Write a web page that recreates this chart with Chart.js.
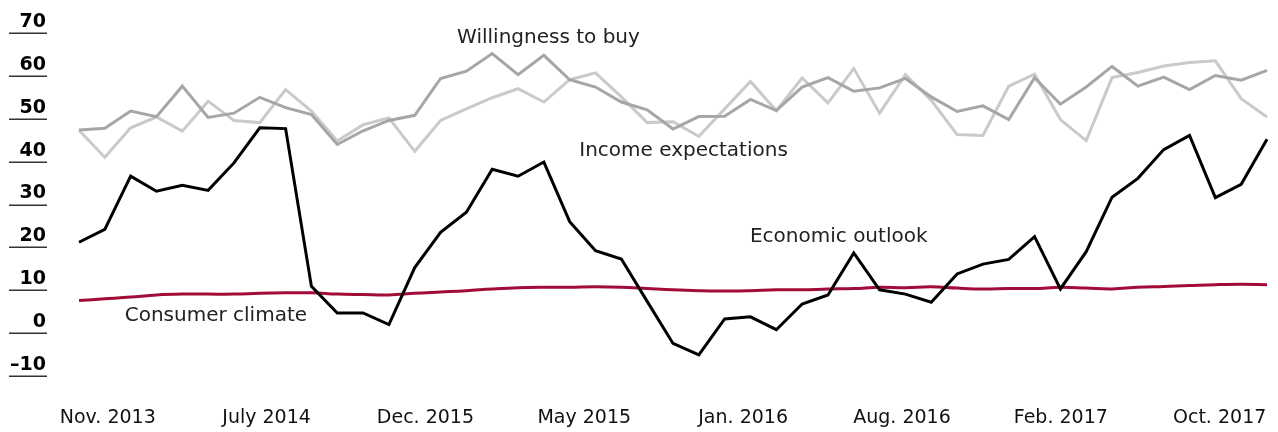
<!DOCTYPE html>
<html>
<head>
<meta charset="utf-8">
<script src="https://cdn.jsdelivr.net/npm/chart.js@4/dist/chart.umd.min.js"></script>
<style>
  html, body { margin: 0; padding: 0; background: #fff; }
  #wrap { width: 1278px; height: 432px; position: relative; }
</style>
</head>
<body>
<div id="wrap"><canvas id="myChart"></canvas></div>
<script>
// monthly survey points
var months = [
  'Nov 2013', 'Dec 2013',
  'Jan 2014', 'Feb 2014', 'Mar 2014', 'Apr 2014', 'May 2014', 'Jun 2014',
  'Jul 2014', 'Aug 2014', 'Sep 2014', 'Oct 2014', 'Nov 2014', 'Dec 2014',
  'Jan 2015', 'Feb 2015', 'Mar 2015', 'Apr 2015', 'May 2015', 'Jun 2015',
  'Jul 2015', 'Aug 2015', 'Sep 2015', 'Oct 2015', 'Nov 2015', 'Dec 2015',
  'Jan 2016', 'Feb 2016', 'Mar 2016', 'Apr 2016', 'May 2016', 'Jun 2016',
  'Jul 2016', 'Aug 2016', 'Sep 2016', 'Oct 2016', 'Nov 2016', 'Dec 2016',
  'Jan 2017', 'Feb 2017', 'Mar 2017', 'Apr 2017', 'May 2017', 'Jun 2017',
  'Jul 2017', 'Aug 2017', 'Sep 2017'
];

var economicOutlook = [21.2, 24.2, 36.6, 33.1, 34.5, 33.3, 39.7, 47.9, 47.7, 10.9, 4.7, 4.7,
  2.0, 15.3, 23.5, 28.2, 38.2, 36.6, 39.9, 26.0, 19.2, 17.3, 7.4, -2.4,
  -5.1, 3.3, 3.8, 0.8, 6.8, 8.9, 18.7, 10.1, 9.1, 7.2, 13.8, 16.1,
  17.2, 22.5, 10.3, 19.0, 31.7, 36.1, 42.8, 46.1, 31.6, 34.7, 45.2];

var willingnessToBuy = [47.4, 47.8, 51.8, 50.5, 57.6, 50.3, 51.3, 55.0, 52.6, 51.0, 44.0, 47.2,
  49.6, 50.8, 59.4, 61.1, 65.2, 60.3, 64.8, 59.1, 57.4, 53.9, 52.1, 47.6,
  50.5, 50.6, 54.5, 51.9, 57.4, 59.6, 56.4, 57.2, 59.4, 55.1, 51.7, 53.0,
  49.8, 59.6, 53.4, 57.4, 62.2, 57.6, 59.7, 56.8, 60.1, 59.0, 61.3];

var incomeExpectations = [47.3, 41.0, 47.9, 50.4, 47.1, 54.1, 49.6, 49.1, 56.8, 51.8, 44.8, 48.6,
  50.2, 42.4, 49.6, 52.3, 54.9, 57.0, 53.9, 59.1, 60.7, 55.1, 49.1, 49.3,
  45.9, 52.3, 58.7, 51.9, 59.5, 53.7, 61.7, 51.3, 60.3, 54.3, 46.3, 46.1,
  57.6, 60.4, 49.8, 44.9, 59.6, 60.8, 62.3, 63.1, 63.5, 54.7, 50.4];

var consumerClimate = [7.6, 8.0, 8.4, 8.9, 9.1, 9.1, 9.1, 9.3, 9.4, 9.4, 9.1, 9.0,
  8.9, 9.3, 9.6, 9.9, 10.3, 10.6, 10.7, 10.7, 10.8, 10.7, 10.4, 10.1,
  9.9, 9.8, 9.9, 10.1, 10.1, 10.3, 10.4, 10.7, 10.6, 10.8, 10.5, 10.3,
  10.4, 10.4, 10.7, 10.5, 10.3, 10.7, 10.9, 11.1, 11.3, 11.4, 11.3];

// axis text
var axisLabels = ['Nov. 2013', 'July 2014', 'Dec. 2015', 'May 2015', 'Jan. 2016', 'Aug. 2016', 'Feb. 2017', 'Oct. 2017'];
var yMin = -10, yMax = 70, yStep = 10;

// series names written next to the lines (index on x, value on y)
var nameTags = [
  { text: 'Willingness to buy', i: 14.64, v: 67.7 },
  { text: 'Income expectations', i: 19.37, v: 41.2 },
  { text: 'Economic outlook', i: 25.98, v: 21.2 },
  { text: 'Consumer climate', i: 1.77, v: 2.9 }
];

var FONT = "'DejaVu Sans', sans-serif";

var extras = {
  id: 'extras',
  afterDraw: function (chart) {
    var ctx = chart.ctx, y = chart.scales.y, x = chart.scales.x;
    ctx.save();
    // underline under every y tick label
    ctx.strokeStyle = '#333';
    ctx.lineWidth = 1.5;
    y.ticks.forEach(function (t) {
      var py = Math.round(y.getPixelForValue(t.value)) + 0.25;
      ctx.beginPath();
      ctx.moveTo(9, py);
      ctx.lineTo(47, py);
      ctx.stroke();
    });
    // series names
    ctx.fillStyle = '#222';
    ctx.font = '20px ' + FONT;
    ctx.textAlign = 'left';
    ctx.textBaseline = 'alphabetic';
    nameTags.forEach(function (n) {
      ctx.fillText(n.text, x.getPixelForValue(n.i), y.getPixelForValue(n.v));
    });
    ctx.restore();
  }
};

var ctx = document.getElementById('myChart').getContext('2d');
var myChart = new Chart(ctx, {
  type: 'line',
  data: {
    labels: months,
    datasets: [
      { label: 'Economic outlook', data: economicOutlook, borderColor: '#000', borderWidth: 3, order: 1 },
      { label: 'Consumer climate', data: consumerClimate, borderColor: '#a20c38', borderWidth: 3, tension: 0.4, order: 2 },
      { label: 'Willingness to buy', data: willingnessToBuy, borderColor: '#a6a6a6', borderWidth: 3, order: 3 },
      { label: 'Income expectations', data: incomeExpectations, borderColor: '#cacaca', borderWidth: 3, order: 4 }
    ]
  },
  options: {
    responsive: true,
    maintainAspectRatio: false,
    animation: false,
    layout: { padding: { top: 33, right: 11, left: 0, bottom: 0 } },
    elements: { point: { radius: 0 }, line: { fill: false } },
    plugins: { legend: { display: false }, tooltip: { enabled: false } },
    scales: {
      x: { display: false },
      xLab: {
        type: 'linear',
        position: 'bottom',
        min: -0.181,
        max: 7.298,
        grid: { display: false, drawTicks: false },
        border: { display: false },
        ticks: {
          stepSize: 1,
          includeBounds: false,
          maxRotation: 0,
          autoSkip: false,
          padding: 31,
          color: '#111',
          font: { family: FONT, size: 19 },
          callback: function (v) { return axisLabels[v] || ''; }
        },
        afterFit: function (s) {
          s.height = 56;
          s.paddingLeft = 0;
          s.paddingRight = 0;
        }
      },
      y: {
        min: yMin,
        max: yMax,
        grid: { display: false, drawTicks: false },
        border: { display: false },
        ticks: {
          stepSize: yStep,
          padding: 33,
          labelOffset: -11,
          color: '#000',
          font: { family: FONT, size: 19, weight: 'bold' },
          callback: function (v) { return v < 0 ? '\u2013' + Math.abs(v) : String(v); }
        },
        afterFit: function (s) {
          s.width = 79;
          s.paddingTop = 0;
          s.paddingBottom = 0;
        }
      }
    }
  },
  plugins: [extras]
});
</script>
</body>
</html>
